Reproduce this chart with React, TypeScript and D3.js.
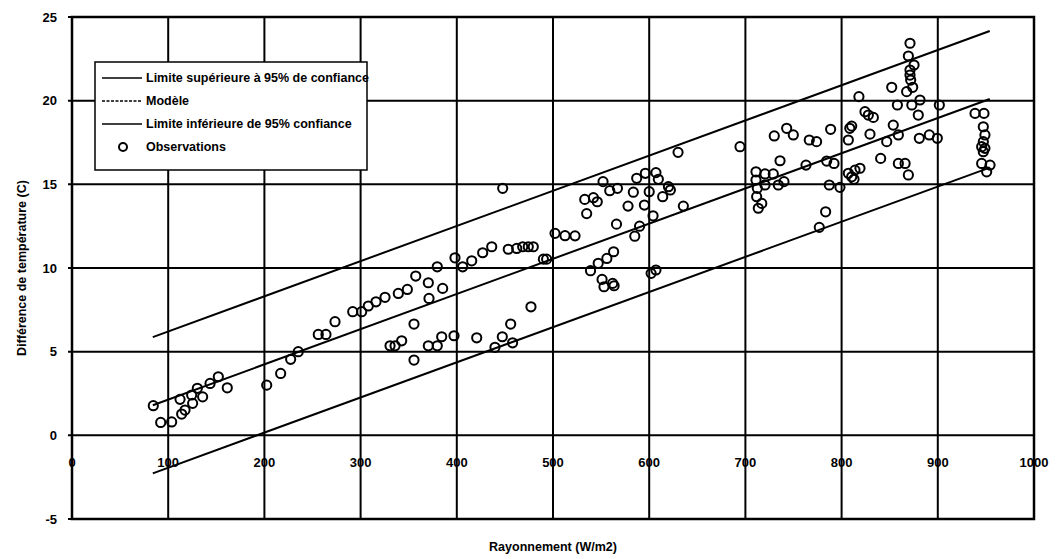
import React from "react";
import * as d3 from "d3";

const obsX: number[] = [
  84.5, 92.2, 103.6, 112.3, 114, 117.5, 124.4, 125.4, 130.3, 135.8, 143.5, 152.1, 161.4, 202.4,
  216.9, 227.3, 235.2, 256, 264, 273.4, 291.8, 301.1, 308, 316, 325.4, 339.2, 348.6, 357.3, 370.4, 379.7, 385.3, 371.1,
  355.5, 330.6, 335.8, 342.7, 355.5, 370.4, 379.7, 384.3,
  398.1, 406.1, 415.5, 426.9, 436.3, 453.5, 462.3, 468.5, 474.3, 479.5, 490, 493.4, 447.7,
  397.1, 420.7, 439.7, 447.3, 456, 458, 477.1,
  502.1, 512.5, 522.9,
  533, 542, 546, 535, 552, 559, 567, 566, 578, 583.5, 587, 585, 590, 596, 595, 600, 604, 607, 609.5, 614, 620, 622, 630, 635.5,
  539, 547, 556, 563, 551, 553, 562, 563.5, 602, 607,
  694.4, 711, 711, 720.4, 729, 712.4, 720.4, 711.7, 717, 713.4, 734.2, 740.1, 736, 730, 742.9, 749.8, 766.4, 774, 788.6, 763, 784.5, 792.1, 787.2, 798.3, 783.4, 776.8,
  807, 810.5, 808.5, 807, 812.9, 819.1, 813.9, 810.5, 818, 824.3, 827.8, 833, 829.5, 846.9, 853.7, 859, 840.6, 859, 866, 869.4, 852.1, 858, 873, 881.5, 879.7, 901.6, 880.8, 891.2, 899.5,
  871.1, 869.4, 875.3, 871.1, 871.1, 871.8, 873.9, 867.6,
  938.7, 948, 947.3, 949, 947.3, 945.6, 949, 947.3, 945.6, 954.3, 950.8,
];

const obsY: number[] = [
  1.77, 0.77, 0.8, 2.15, 1.27, 1.51, 2.41, 1.91, 2.81, 2.3, 3.1, 3.5, 2.84, 3.0,
  3.7, 4.54, 5.0, 6.03, 6.03, 6.79, 7.39, 7.39, 7.73, 7.98, 8.25, 8.48, 8.72, 9.52, 9.12, 10.07, 8.78, 8.18,
  6.65, 5.35, 5.35, 5.65, 4.5, 5.35, 5.35, 5.89,
  10.61, 10.07, 10.43, 10.91, 11.27, 11.12, 11.17, 11.27, 11.27, 11.27, 10.53, 10.53, 14.76,
  5.95, 5.83, 5.26, 5.89, 6.65, 5.53, 7.68,
  12.07, 11.93, 11.92,
  14.1, 14.2, 13.96, 13.25, 15.16, 14.62, 14.76, 12.62, 13.7, 14.53, 15.36, 11.9, 12.5, 15.66, 13.76, 14.56, 13.12, 15.7, 15.3, 14.26, 14.86, 14.66, 16.91, 13.7,
  9.84, 10.28, 10.57, 10.97, 9.32, 8.88, 9.08, 8.94, 9.68, 9.88,
  17.25, 15.75, 15.26, 15.62, 15.62, 14.76, 14.96, 14.26, 13.86, 13.57, 14.96, 15.16, 16.41, 17.89, 18.35, 17.95, 17.65, 17.55, 18.29, 16.15, 16.39, 16.25, 14.96, 14.82, 13.36, 12.43,
  17.65, 18.48, 18.35, 15.66, 15.3, 15.96, 15.85, 15.45, 20.24, 19.34, 19.14, 19.0, 18.0, 17.55, 18.54, 17.95, 16.55, 16.25, 16.25, 15.56, 20.8, 19.74, 19.74, 20.04, 19.14, 19.74, 17.75, 17.95, 17.75,
  23.43, 22.67, 22.13, 21.83, 21.53, 21.23, 20.8, 20.54,
  19.24, 19.24, 18.44, 17.95, 17.55, 17.25, 17.15, 16.95, 16.25, 16.15, 15.75,
];

const lineX: number[] = [84, 954];
const upperY: number[] = [5.87, 24.16];
const modelY: number[] = [1.8, 20.1];
const lowerY: number[] = [-2.27, 16.0];

const xTicks: number[] = [0, 100, 200, 300, 400, 500, 600, 700, 800, 900, 1000];
const yTicks: number[] = [-5, 0, 5, 10, 15, 20, 25];

const legendLabels: string[] = [
  "Limite supérieure à 95% de confiance",
  "Modèle",
  "Limite inférieure de 95% confiance",
  "Observations",
];

const xTitle = "Rayonnement (W/m2)";
const yTitle = "Différence de température (C)";

const FONT = "'Liberation Sans Narrow', 'Liberation Sans', Arial, sans-serif";

export default function App() {
  const W = 1061;
  const H = 559;
  const x = d3.scaleLinear().domain([0, 1000]).range([72, 1034]);
  const y = d3.scaleLinear().domain([-5, 25]).range([519, 17]);
  const line = d3
    .line<[number, number]>()
    .x((d) => x(d[0]))
    .y((d) => y(d[1]));
  const mk = (ys: number[]) => lineX.map((v, i) => [v, ys[i]] as [number, number]);

  const lx = 95, ly = 62, lw = 272, lh = 108;
  const rowY = [78, 101, 124, 147];

  return (
    <svg
      width={W}
      height={H}
      style={{ position: "absolute", left: 0, top: 0, background: "#fff" }}
      fontFamily={FONT}
    >
      <rect x={0} y={0} width={W} height={H} fill="#fff" />
      {/* x tick labels (drawn beneath gridlines) */}
      {xTicks.map((t) => (
        <text key={"xl" + t} x={x(t)} y={467} textAnchor="middle" fontSize={13} fontWeight="bold">
          {t}
        </text>
      ))}
      {/* y tick labels */}
      {yTicks.map((t) => (
        <text key={"yl" + t} x={57} y={y(t)} dy="0.35em" textAnchor="end" fontSize={13} fontWeight="bold">
          {t}
        </text>
      ))}
      {/* gridlines */}
      {yTicks.map((t) => (
        <line key={"gy" + t} x1={x(0) - 4} x2={x(1000)} y1={y(t)} y2={y(t)} stroke="#000" strokeWidth={2} />
      ))}
      {xTicks.map((t) => (
        <line key={"gx" + t} x1={x(t)} x2={x(t)} y1={y(25)} y2={y(-5)} stroke="#000" strokeWidth={2} />
      ))}
      <rect x={x(0)} y={y(25)} width={x(1000) - x(0)} height={y(-5) - y(25)} fill="none" stroke="#000" strokeWidth={2.5} />
      {/* fit lines */}
      <path d={line(mk(upperY)) || ""} fill="none" stroke="#000" strokeWidth={2} />
      <path d={line(mk(modelY)) || ""} fill="none" stroke="#000" strokeWidth={2} />
      <path d={line(mk(lowerY)) || ""} fill="none" stroke="#000" strokeWidth={2} />
      {/* observations */}
      {obsX.map((v, i) => (
        <circle key={"o" + i} cx={x(v)} cy={y(obsY[i])} r={4.6} fill="none" stroke="#000" strokeWidth={2} />
      ))}
      {/* legend */}
      <rect x={lx} y={ly} width={lw} height={lh} fill="#fff" stroke="#000" strokeWidth={1.5} />
      <line x1={102} x2={142} y1={rowY[0]} y2={rowY[0]} stroke="#000" strokeWidth={1.5} />
      <line x1={102} x2={142} y1={rowY[1]} y2={rowY[1]} stroke="#000" strokeWidth={1.5} strokeDasharray="3,1.5" />
      <line x1={102} x2={142} y1={rowY[2]} y2={rowY[2]} stroke="#000" strokeWidth={1.5} />
      <circle cx={123} cy={rowY[3]} r={4} fill="none" stroke="#000" strokeWidth={2} />
      {legendLabels.map((s, i) => (
        <text key={"lg" + i} x={146} y={rowY[i]} dy="0.35em" fontSize={12.5} fontWeight="bold">
          {s}
        </text>
      ))}
      {/* axis titles */}
      <text x={553} y={551} textAnchor="middle" fontSize={12.5} fontWeight="bold">
        {xTitle}
      </text>
      <text
        transform={`translate(22,${y(10)}) rotate(-90)`}
        textAnchor="middle"
        dy="0.35em"
        fontSize={12.5}
        fontWeight="bold"
      >
        {yTitle}
      </text>
    </svg>
  );
}
